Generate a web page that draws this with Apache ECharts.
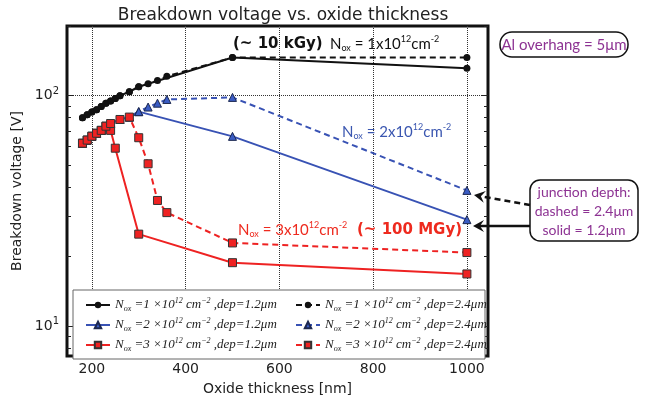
<!doctype html>
<html lang="en">
<head>
    <meta charset="UTF-8">
    <title>Breakdown voltage vs. oxide thickness</title>
    <style>
        html, body { margin: 0; padding: 0; background: #fff; }
        #main { width: 660px; height: 401px; }
    </style>
</head>
<body>
<div id="main"></div>
<script src="https://cdn.jsdelivr.net/npm/echarts@6.0.0/dist/echarts.min.js"></script>
<script>
    // oxide thickness [nm] / breakdown voltage [V]
    var thkN1Solid = [180, 190, 200, 210, 220, 230, 240, 250, 260, 280, 300, 500, 1000];
    var vbdN1Solid = [80, 82.5, 84.7, 86.6, 89.5, 92.5, 94.6, 97, 99.7, 103.7, 109, 146, 131];
    var thkN1Dash = [180, 190, 200, 210, 220, 230, 240, 250, 260, 280, 300, 320, 340, 360, 500, 1000];
    var vbdN1Dash = [80, 82.5, 84.7, 86.6, 89.5, 92.5, 94.6, 97, 99.7, 103.7, 109, 112.4, 116, 121, 146, 146];

    var thkN2Solid = [180, 190, 200, 210, 220, 230, 240, 260, 280, 300, 500, 1000];
    var vbdN2Solid = [62, 64, 66.5, 68.5, 70.5, 73, 75.5, 78.6, 80.5, 85, 66.4, 28.9];
    var thkN2Dash = [180, 190, 200, 210, 220, 230, 240, 260, 280, 300, 320, 340, 360, 500, 1000];
    var vbdN2Dash = [62, 64, 66.5, 68.5, 70.5, 73, 75.5, 78.6, 80.5, 85, 89, 92.5, 96, 98, 38.7];

    var thkN3Solid = [180, 190, 200, 210, 220, 230, 240, 250, 300, 500, 1000];
    var vbdN3Solid = [62, 64, 66.5, 68.5, 70.5, 73.5, 70.5, 59, 25, 18.8, 16.8];
    var thkN3Dash = [180, 190, 200, 210, 220, 230, 240, 260, 280, 300, 320, 340, 360, 500, 1000];
    var vbdN3Dash = [62, 64, 66.5, 68.5, 70.5, 73.5, 75.5, 78.6, 80.5, 65.5, 50.5, 35, 31, 22.9, 20.8];

    var xTicks = [200, 400, 600, 800, 1000];
    var yMajorTicks = [10, 100];
    var yMinorTicks = [8, 9, 20, 30, 40, 50, 60, 70, 80, 90, 200];

    var noxLevels = ['1', '2', '3'];
    var depths = ['1.2', '2.4'];

    function legendName(n, d) {
        return 'Nox=' + n + '×10¹² cm⁻²,dep=' + d + 'μm';
    }
    function legendRich(name) {
        var m = name.match(/Nox=(\d)×10¹² cm⁻²,dep=([\d.]+)μm/);
        return '{i|N}{sub|ox}{i| =' + m[1] + ' ×10}{sup|12}{i| cm}{sup|−2}{i| ,dep=' + m[2] + 'μm}';
    }

    var chart = echarts.init(document.getElementById('main'), null, {renderer: 'canvas'});

    var looks = [
        {color: '#111111', fill: '#111111', edge: '#111111', symbol: 'circle', size: 7},
        {color: '#3852b4', fill: '#3a5cc4', edge: '#1c2850', symbol: 'triangle', size: 8},
        {color: '#ee2222', fill: '#ee2222', edge: '#333333', symbol: 'rect', size: 8}
    ];
    var xs = [[thkN1Solid, thkN1Dash], [thkN2Solid, thkN2Dash], [thkN3Solid, thkN3Dash]];
    var ys = [[vbdN1Solid, vbdN1Dash], [vbdN2Solid, vbdN2Dash], [vbdN3Solid, vbdN3Dash]];

    var series = [];
    for (var k = 0; k < 3; k++) {
        for (var j = 0; j < 2; j++) {
            var lk = looks[k];
            series.push({
                name: legendName(noxLevels[k], depths[j]),
                type: 'line',
                data: xs[k][j].map(function (x, i) { return [x, this[i]]; }, ys[k][j]),
                symbol: lk.symbol,
                symbolSize: lk.size,
                itemStyle: {color: lk.fill, borderColor: lk.edge, borderWidth: k ? 1 : 0},
                lineStyle: {color: lk.color, width: 2, type: j ? [6, 4] : 'solid'},
                z: 2 + k,
                animation: false
            });
        }
    }

    var serif = 'Liberation Serif';
    var legendTxt = {
        fontFamily: serif,
        fontStyle: 'italic',
        fontSize: 13,
        color: '#222',
        rich: {
            i: {fontFamily: serif, fontStyle: 'italic', fontSize: 13, color: '#222', lineHeight: 16},
            sub: {fontFamily: serif, fontStyle: 'italic', fontSize: 8, color: '#222', lineHeight: 9, verticalAlign: 'bottom'},
            sup: {fontFamily: serif, fontStyle: 'italic', fontSize: 8, color: '#222', lineHeight: 9, verticalAlign: 'top'}
        }
    };

    // rich text for N_ox annotations
    function noxText(level, col, size) {
        return {
            text: '{n|N}{s|ox}{n| = ' + level + 'x10}{p|12}{n|cm}{p|-2}',
            rich: {
                n: {fontFamily: 'Lato', fontSize: size, fill: col, lineHeight: 18},
                s: {fontFamily: 'Lato', fontSize: size * 0.6, fill: col, lineHeight: 10, verticalAlign: 'bottom'},
                p: {fontFamily: 'Lato', fontSize: size * 0.6, fill: col, lineHeight: 10, verticalAlign: 'top'}
            }
        };
    }

    function arrow(from, tip, dashed) {
        var dx = tip[0] - from[0], dy = tip[1] - from[1];
        var len = Math.sqrt(dx * dx + dy * dy);
        var ux = dx / len, uy = dy / len, px = -uy, py = ux;
        var L = 11, W = 6, N = 7;
        var back = [tip[0] - ux * L, tip[1] - uy * L];
        var notch = [tip[0] - ux * N, tip[1] - uy * N];
        return [{
            type: 'polyline', z: 6,
            shape: {points: [from, notch]},
            style: {stroke: '#111', lineWidth: 2.5, lineDash: dashed ? [6, 4] : null, fill: null}
        }, {
            type: 'polygon', z: 6,
            shape: {points: [tip, [back[0] + px * W, back[1] + py * W], notch, [back[0] - px * W, back[1] - py * W]]},
            style: {fill: '#111'}
        }];
    }

    var purple = '#8d3393';
    var graphics = [
        {type: 'rect', z: 3, shape: {x: 73, y: 290, width: 412, height: 69}, style: {fill: '#fff', stroke: '#666', lineWidth: 1}},
        {type: 'text', z: 6, x: 233, y: 44, style: {text: '(~ 10 kGy)', fontFamily: 'DejaVu Sans', fontWeight: 'bold', fontSize: 15, fill: '#111', textVerticalAlign: 'middle'}},
        {type: 'text', z: 6, x: 330, y: 44, style: Object.assign(noxText('1', '#111', 15), {textVerticalAlign: 'middle'})},
        {type: 'text', z: 6, x: 342, y: 132, style: Object.assign(noxText('2', '#3a56b0', 15), {textVerticalAlign: 'middle'})},
        {type: 'text', z: 6, x: 238, y: 230, style: Object.assign(noxText('3', '#ee2a1e', 15), {textVerticalAlign: 'middle'})},
        {type: 'text', z: 6, x: 357, y: 230, style: {text: '(~ 100 MGy)', fontFamily: 'DejaVu Sans', fontWeight: 'bold', fontSize: 15, fill: '#ee2a1e', textVerticalAlign: 'middle'}},
        {type: 'rect', z: 6, shape: {x: 500, y: 32, width: 128, height: 25, r: 12}, style: {fill: '#fff', stroke: '#111', lineWidth: 1.5}},
        {type: 'text', z: 7, x: 564, y: 45, style: {text: 'Al overhang = 5μm', fontFamily: 'Lato', fontSize: 15, fill: purple, textAlign: 'center', textVerticalAlign: 'middle'}},
        {type: 'rect', z: 6, shape: {x: 530, y: 180, width: 108, height: 61, r: 10}, style: {fill: '#fff', stroke: '#111', lineWidth: 1.5}},
        {type: 'text', z: 7, x: 584, y: 211, style: {text: 'junction depth:\ndashed = 2.4μm\nsolid = 1.2μm', fontFamily: 'Lato', fontSize: 14, lineHeight: 19, fill: purple, textAlign: 'center', textVerticalAlign: 'middle'}}
    ].concat(arrow([530, 205], [474, 195], true), arrow([530, 226], [473, 226], false));

    function yAxisDef(pos, ticks, len, labels) {
        return {
            type: 'log', logBase: 10, min: 7.4, max: 200, position: pos,
            axisLine: {show: false},
            axisTick: {show: true, inside: true, length: len, customValues: ticks, lineStyle: {color: '#222', width: 1}},
            axisLabel: labels ? {
                customValues: yMajorTicks, margin: 8,
                formatter: function (v) { return '{b|10}{s|' + Math.round(Math.log(v) / Math.LN10) + '}'; },
                rich: {
                    b: {fontFamily: 'DejaVu Sans', fontSize: 14, color: '#222', lineHeight: 18},
                    s: {fontFamily: 'DejaVu Sans', fontSize: 10, color: '#222', lineHeight: 11, verticalAlign: 'top'}
                }
            } : {show: false},
            splitLine: {show: !!labels, lineStyle: {type: 'dotted', color: '#333', width: 1}},
            name: labels ? 'Breakdown voltage [V]' : '',
            nameLocation: 'middle', nameGap: 38,
            nameTextStyle: {fontFamily: 'DejaVu Sans', fontSize: 14, color: '#222'}
        };
    }

    var option = {
        backgroundColor: '#fff',
        animation: false,
        title: {
            text: 'Breakdown voltage vs. oxide thickness',
            left: 278, top: 2, textAlign: 'center',
            textStyle: {fontFamily: 'DejaVu Sans', fontSize: 17, fontWeight: 'normal', color: '#222'}
        },
        grid: {left: 67, right: 172, top: 26, bottom: 38, show: true, borderColor: '#111', borderWidth: 3, backgroundColor: '#fff'},
        xAxis: {
            type: 'value', min: 147, max: 1045,
            axisLine: {show: false},
            axisTick: {inside: true, length: 6, customValues: xTicks, lineStyle: {color: '#222'}},
            axisLabel: {customValues: xTicks, fontFamily: 'DejaVu Sans', fontSize: 14, color: '#222', margin: 6,
                formatter: function (v) { return String(v); }},
            splitLine: {show: true, lineStyle: {type: 'dotted', color: '#333', width: 1}},
            name: 'Oxide thickness [nm]', nameLocation: 'middle', nameGap: 26,
            nameTextStyle: {fontFamily: 'DejaVu Sans', fontSize: 14, color: '#222'}
        },
        yAxis: [
            yAxisDef('left', yMajorTicks, 7, true),
            yAxisDef('left', yMinorTicks, 4, false),
            yAxisDef('right', yMajorTicks, 7, false),
            yAxisDef('right', yMinorTicks, 4, false)
        ],
        legend: [0, 1].map(function (col) {
            return {
                orient: 'vertical', left: col ? 290 : 80, top: 292,
                itemWidth: 24, itemHeight: 8, itemGap: 4,
                data: noxLevels.map(function (n) { return legendName(n, depths[col]); }),
                formatter: legendRich,
                textStyle: legendTxt,
                selectedMode: false,
                z: 5
            };
        }),
        graphic: graphics,
        series: series
    };
    chart.setOption(option);
</script>
</body>
</html>
